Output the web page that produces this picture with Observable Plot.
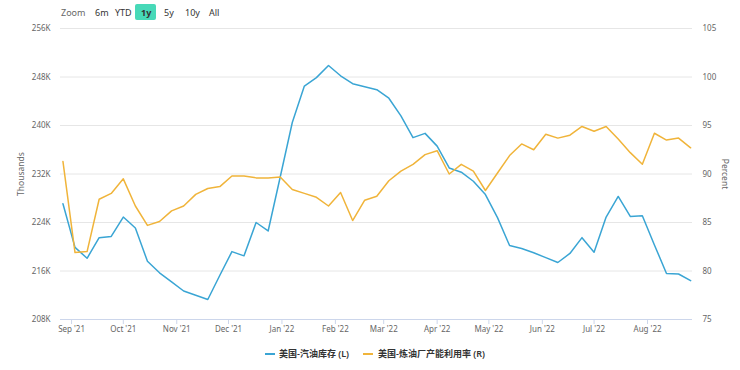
<!DOCTYPE html>
<html><head><meta charset="utf-8">
<script src="https://cdn.jsdelivr.net/npm/d3@7"></script>
<script src="https://cdn.jsdelivr.net/npm/@observablehq/plot@0.6"></script>
<style>
body{margin:0;background:#fff;font-family:"Noto Sans","Noto Sans CJK SC",sans-serif;}
#wrap{position:relative;width:740px;height:370px;overflow:hidden;}
.t{position:absolute;white-space:nowrap;line-height:1;}
.tb{font-size:9px;color:#333;top:8px;}
.btn{position:absolute;left:135px;top:4px;width:21px;height:16px;background:#47d9b8;border-radius:2px;}
.lg{font-size:9px;font-weight:600;color:#333;top:349px;}
.sw{position:absolute;height:2px;width:10px;top:353px;}
.ax{font-size:8.5px;color:#666;}
</style></head><body><div id="wrap"></div>
<script>
const startDate = "2021-08-27";
const weekCount = 53;
// 美国-汽油库存 (thousand barrels, K)
const gasoline = [227.1,219.9,218.1,221.5,221.7,224.9,223.1,217.6,215.7,214.2,212.7,212.0,211.3,215.3,219.2,218.5,224.0,222.6,231.5,240.5,246.5,247.9,249.9,248.2,246.9,246.4,245.9,244.5,241.6,238.0,238.7,236.6,233.0,232.3,230.8,228.6,224.8,220.2,219.7,219.0,218.2,217.4,218.9,221.5,219.1,224.9,228.3,225.0,225.1,220.3,215.6,215.5,214.4];
// 美国-炼油厂产能利用率 (%)
const refinery = [91.3,81.9,82.0,87.4,88.0,89.5,86.7,84.7,85.1,86.2,86.7,87.9,88.5,88.7,89.8,89.8,89.6,89.6,89.7,88.4,88.0,87.6,86.7,88.1,85.2,87.3,87.7,89.3,90.3,91.0,92.0,92.4,90.0,91.0,90.3,88.3,90.1,91.9,93.1,92.5,94.1,93.7,94.0,94.9,94.4,94.9,93.6,92.2,91.0,94.2,93.5,93.7,92.7];
const leftTicks = [208,216,224,232,240,248,256];
const rightTicks = [75,80,85,90,95,100,105];
const monthTicks = ["2021-09-01","2021-10-01","2021-11-01","2021-12-01","2022-01-01","2022-02-01","2022-03-01","2022-04-01","2022-05-01","2022-06-01","2022-07-01","2022-08-01"];
const seriesNames = ["美国-汽油库存 (L)","美国-炼油厂产能利用率 (R)"];
const colors = ["#3aa5d4","#f0b43a"];
const toolbar = ["Zoom","6m","YTD","1y","5y","10y","All"];

const dates = d3.range(weekCount).map(i => d3.utcDay.offset(new Date(startDate+"T00:00Z"), 7*i));
const data = dates.map((d,i)=>({date:d, gas:gasoline[i], ref:refinery[i]}));
const L0 = leftTicks[0], L1 = leftTicks[leftTicks.length-1];
const R0 = rightTicks[0], R1 = rightTicks[rightTicks.length-1];
const toLeft = p => L0 + (p-R0)*(L1-L0)/(R1-R0);
const toRight = v => R0 + (v-L0)*(R1-R0)/(L1-L0);

const chart = Plot.plot({
  width:740, height:370,
  marginTop:28, marginBottom:51, marginLeft:60, marginRight:48,
  style:{fontFamily:'"Noto Sans","Noto Sans CJK SC",sans-serif', fontSize:"8px", color:"#666", background:"transparent", overflow:"visible"},
  x:{type:"utc", domain:[new Date("2021-08-25T14:00Z"), new Date("2022-08-27T02:00Z")]},
  y:{domain:[L0,L1]},
  marks:[
    Plot.gridY(leftTicks,{stroke:"#e6e6e6", strokeOpacity:1}),
    Plot.ruleY([L0],{stroke:"#ccd6eb"}),
    Plot.axisY(leftTicks,{anchor:"left", tickSize:0, tickPadding:10, tickFormat:d=>d+"K", label:null, fill:"#666"}),
    Plot.axisY(leftTicks,{anchor:"right", tickSize:0, tickPadding:10, tickFormat:d=>String(Math.round(toRight(d))), label:null, fill:"#666"}),
    Plot.axisX(monthTicks.map(s=>new Date(s+"T00:00Z")),{tickSize:5, tickPadding:2, tickFormat:d3.utcFormat("%b '%y"), label:null, stroke:"#ccd6eb", fill:"#666"}),
    Plot.line(data,{x:"date", y:"gas", stroke:colors[0], strokeWidth:1.5}),
    Plot.line(data,{x:"date", y:d=>toLeft(d.ref), stroke:colors[1], strokeWidth:1.5})
  ]
});
const wrap = document.getElementById("wrap");
wrap.appendChild(chart);
chart.style.position="absolute"; chart.style.left="0"; chart.style.top="0";

function addText(cls, txt, left, top, extra){
  const s=document.createElement("span"); s.className="t "+cls; s.textContent=txt;
  s.style.left=left+"px"; if(top!=null) s.style.top=top+"px";
  if(extra) Object.assign(s.style, extra);
  wrap.appendChild(s); return s;
}
const btn=document.createElement("div"); btn.className="btn"; wrap.appendChild(btn);
const tbX=[61,95,115,141,164,185,209];
toolbar.forEach((t,i)=>addText("tb",t,tbX[i],null,{color: i===0?"#666":"#333", fontWeight: i===3?"bold":"normal"}));
// axis titles
addText("ax","Thousands",21,174,{transform:"translate(-50%,-50%) rotate(-90deg)"});
addText("ax","Percent",725,174,{transform:"translate(-50%,-50%) rotate(90deg)"});
// legend
const swX=[265,363], lgX=[279,378];
seriesNames.forEach((n,i)=>{
  const sw=document.createElement("div"); sw.className="sw"; sw.style.left=swX[i]+"px"; sw.style.background=colors[i]; wrap.appendChild(sw);
  addText("lg",n,lgX[i]);
});
</script></body></html>
